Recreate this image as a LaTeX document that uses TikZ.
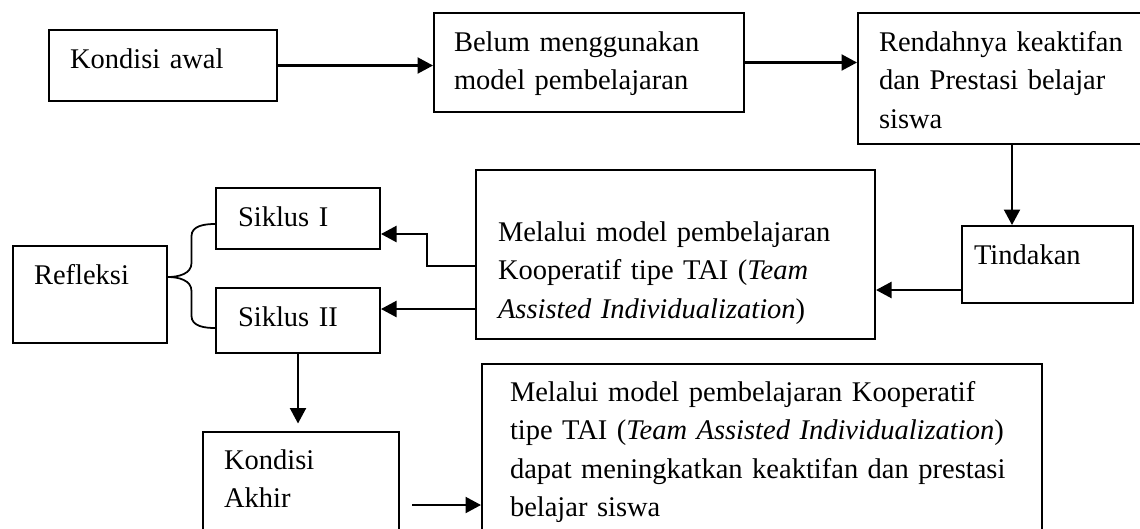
\documentclass[tikz,border=0pt]{standalone}
\usepackage{fontspec}
\setmainfont{Liberation Serif}
\usetikzlibrary{calc,arrows.meta}
\hyphenpenalty=10000
\tikzset{
	kotak/.style={draw, line width=0.8pt, anchor=north west, align=left, inner ysep=0pt, font=\fontsize{11.4}{15.4}\selectfont},
	panah/.style={-{Triangle[length=6.2pt,width=6.4pt]}, line width=0.9pt},
}

\begin{document}
\begin{tikzpicture}[x=0.4pt, y=-0.4pt]
		%%%%% START %%%%%
		\clip (0, 0) rectangle (1140, 528);
		
		\node[kotak, inner xsep=8.4pt, text width=74.4pt, text height=15.2pt, text depth=13.2pt] (awal) at (48, 29) {Kondisi awal};
		\node[kotak, inner xsep=8pt, text width=108pt, text height=15.2pt, text depth=24.4pt] (belum) at (433, 12) {Belum menggunakan\\model pembelajaran};
		\node[kotak, inner xsep=8.4pt, text width=104.8pt, text height=15.2pt, text depth=37.2pt] (rendah) at (857, 12) {Rendahnya keaktifan\\dan Prestasi belajar\\siswa};
		\node[kotak, inner xsep=4.8pt, text width=58.8pt, text height=15.2pt, text depth=15.6pt] (tindakan) at (961, 225) {Tindakan};
		\node[kotak, inner xsep=8.8pt, text width=142pt, text height=28.4pt, text depth=39.2pt] (melalui) at (475, 169) {Melalui model pembelajaran\\Kooperatif tipe TAI (\textit{Team}\\\textit{Assisted Individualization})};
		\node[kotak, inner xsep=8.8pt, text width=48pt, text height=15.2pt, text depth=9.2pt] (siklus1) at (215, 187) {Siklus I};
		\node[kotak, inner xsep=8.8pt, text width=48pt, text height=15.2pt, text depth=10.8pt] (siklus2) at (215, 287) {Siklus II};
		\node[kotak, inner xsep=8.4pt, text width=44.8pt, text height=15.2pt, text depth=23.6pt] (refleksi) at (12, 245) {Refleksi};
		\node[kotak, inner xsep=8.4pt, text width=61.6pt, text height=14.8pt, text depth=48pt] (akhir) at (202, 431) {Kondisi\\Akhir};
		\node[kotak, inner xsep=11.2pt, text width=201.6pt, text height=14.8pt, text depth=80pt] (hasil) at (481, 363) {Melalui model pembelajaran Kooperatif\\tipe TAI (\textit{Team Assisted Individualization})\\dapat meningkatkan keaktifan dan prestasi\\belajar siswa};
		
		% alur atas
		\draw[panah] (awal.east) -- (awal.east -| belum.west);
		\draw[panah] (belum.east) -- (belum.east -| rendah.west);
		\draw[panah] ([xshift=0.8pt]rendah.south) -- ([xshift=0.8pt]rendah.south |- tindakan.north);
		\draw[panah] ([yshift=-10.2pt]tindakan.west) -- ([yshift=-10.2pt]tindakan.west -| melalui.east);
		
		% ke siklus
		\draw[panah] ([yshift=-4.6pt]melalui.west) -- ++(-48, 0) |- ([yshift=-6.2pt]siklus1.east);
		\draw[panah] ([yshift=4.6pt]siklus2.east -| melalui.west) -- ([yshift=4.6pt]siklus2.east);
		
		% kurung kurawal refleksi
		\coordinate (ujung) at ([yshift=7pt]refleksi.east);
		\coordinate (atas) at ([yshift=-2.2pt]siklus1.west);
		\coordinate (bawah) at ([yshift=-3pt]siklus2.west);
		\coordinate (tengah) at ($(refleksi.east)!0.5!(siklus1.west)$);
		\draw[line width=0.7pt] (atas) to[out=180, in=90] ([yshift=-4.8pt]tengah |- atas) -- ([yshift=5.6pt]tengah |- ujung) to[out=-90, in=0] (ujung);
		\draw[line width=0.7pt] (ujung) to[out=0, in=90] ([yshift=-5.6pt]tengah |- ujung) -- ([yshift=4.8pt]tengah |- bawah) to[out=-90, in=180] (bawah);
		
		% alur bawah
		\draw[panah, shorten >=3pt] (siklus2.south) -- (siklus2.south |- akhir.north);
		\draw[panah] ([xshift=4.8pt, yshift=-29.6pt]akhir.north east) -- ([yshift=-29.6pt]akhir.north east -| hasil.west);
		
		%%%%% END %%%%%
\end{tikzpicture}
\end{document}
